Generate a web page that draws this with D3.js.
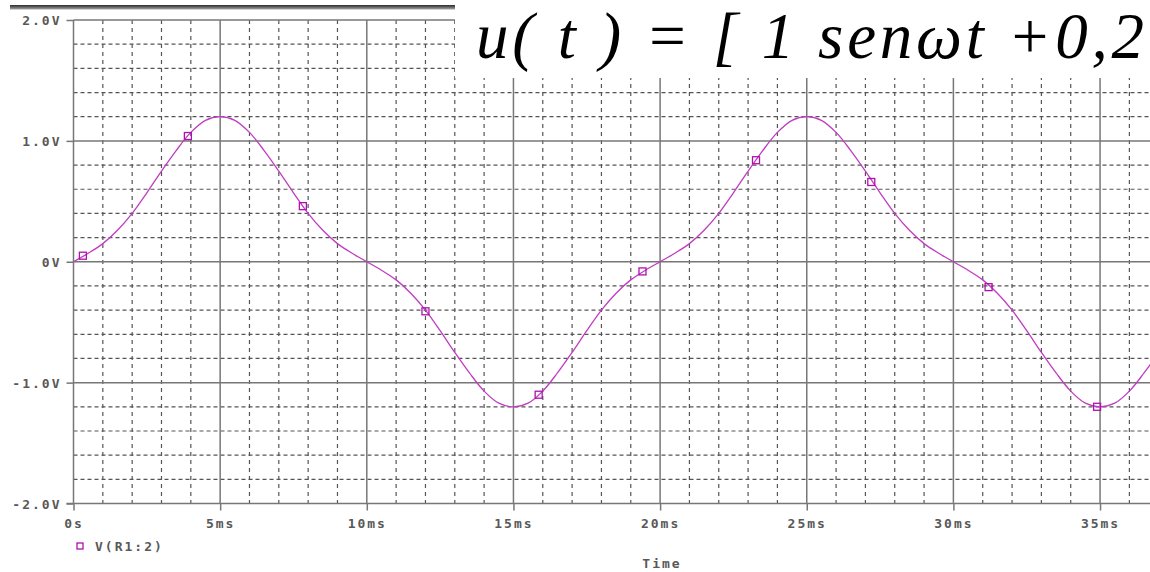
<!DOCTYPE html>
<html>
<head>
  <meta charset="utf-8">
  <title>V(R1:2)</title>
  <style>
    body { margin: 0; padding: 0; background: #fff; overflow: hidden; }
    svg { display: block; }
    .lbl { font-family: "DejaVu Sans Mono", monospace; font-weight: bold; font-size: 13px; fill: #585858; letter-spacing: 2px; }
    .axis path, .axis line { stroke: #777; stroke-width: 1.5; }
  </style>
</head>
<body>
  <svg id="chart" width="1150" height="572"></svg>

  <script src="https://d3js.org/d3.v7.min.js"></script>
  <script>
    // time in ms, voltage in V
    const times = [0, 0.5, 1, 1.5, 2, 2.5, 3, 3.5, 4, 4.5, 5, 5.5, 6, 6.5, 7, 7.5, 8, 8.5, 9, 9.5,
      10, 10.5, 11, 11.5, 12, 12.5, 13, 13.5, 14, 14.5, 15, 15.5, 16, 16.5, 17, 17.5, 18, 18.5, 19, 19.5,
      20, 20.5, 21, 21.5, 22, 22.5, 23, 23.5, 24, 24.5, 25, 25.5, 26, 26.5, 27, 27.5, 28, 28.5, 29, 29.5,
      30, 30.5, 31, 31.5, 32, 32.5, 33, 33.5, 34, 34.5, 35, 35.5, 36, 36.5, 37, 37.5, 38];
    const volts = [0, 0.07, 0.15, 0.26, 0.40, 0.57, 0.75, 0.92, 1.07, 1.17, 1.20, 1.17, 1.07, 0.92, 0.75, 0.57, 0.40, 0.26, 0.15, 0.07,
      0, -0.07, -0.15, -0.26, -0.40, -0.57, -0.75, -0.92, -1.07, -1.17, -1.20, -1.17, -1.07, -0.92, -0.75, -0.57, -0.40, -0.26, -0.15, -0.07,
      0, 0.07, 0.15, 0.26, 0.40, 0.57, 0.75, 0.92, 1.07, 1.17, 1.20, 1.17, 1.07, 0.92, 0.75, 0.57, 0.40, 0.26, 0.15, 0.07,
      0, -0.07, -0.15, -0.26, -0.40, -0.57, -0.75, -0.92, -1.07, -1.17, -1.20, -1.17, -1.07, -0.92, -0.75, -0.57, -0.40, -0.26, -0.15];

    // marker squares along the trace
    const markerTimes = [0.32, 3.9, 7.82, 12.0, 15.86, 19.4, 23.27, 27.2, 31.2, 34.9];
    const markerVolts = [0.05, 1.04, 0.46, -0.41, -1.10, -0.08, 0.84, 0.66, -0.21, -1.20];

    const xTicks = [0, 5, 10, 15, 20, 25, 30, 35];
    const xTickLabels = ['0s', '5ms', '10ms', '15ms', '20ms', '25ms', '30ms', '35ms'];
    const yTicks = [-2, -1, 0, 1, 2];
    const yTickLabels = ['-2.0V', '-1.0V', '0V', '1.0V', '2.0V'];

    const W = 1150, H = 572;
    const svg = d3.select('#chart');

    const x = d3.scaleLinear().domain([0, 40]).range([73.5, 73.5 + 40 * 29.33]);
    const y = d3.scaleLinear().domain([-2, 2]).range([503.5, 20]);

    const plotLeft = x(0), plotBottom = y(-2), plotTop = y(2);

    // dashed minor grid
    const minorX = d3.range(1, 40).filter(t => t % 5 !== 0);
    const minorY = d3.range(-9, 10).map(v => v / 5).filter(v => Math.abs(v % 1) > 0.01);

    const grid = svg.append('g');
    grid.selectAll('line.vx').data(minorX).enter().append('line')
      .attr('x1', d => x(d)).attr('x2', d => x(d))
      .attr('y1', plotTop).attr('y2', plotBottom)
      .attr('stroke', '#555').attr('stroke-width', 1.2)
      .attr('stroke-dasharray', '4,4');
    grid.selectAll('line.hy').data(minorY).enter().append('line')
      .attr('x1', plotLeft).attr('x2', W)
      .attr('y1', d => y(d)).attr('y2', d => y(d))
      .attr('stroke', '#555').attr('stroke-width', 1.2)
      .attr('stroke-dasharray', '4,3');

    // solid major grid
    grid.selectAll('line.mx').data(xTicks.filter(d => d > 0)).enter().append('line')
      .attr('x1', d => x(d)).attr('x2', d => x(d))
      .attr('y1', plotTop).attr('y2', plotBottom)
      .attr('stroke', '#777').attr('stroke-width', 1.5);
    grid.selectAll('line.my').data([-1, 0, 1, 2]).enter().append('line')
      .attr('x1', plotLeft).attr('x2', W)
      .attr('y1', d => y(d)).attr('y2', d => y(d))
      .attr('stroke', '#777').attr('stroke-width', 1.5);

    // axes
    const yAxis = svg.append('g').attr('class', 'axis')
      .attr('transform', `translate(${plotLeft},0)`)
      .call(d3.axisLeft(y).tickValues(yTicks).tickSize(7).tickPadding(5)
        .tickFormat((d, i) => yTickLabels[i]));
    yAxis.select('.domain').attr('d', `M0,${plotTop}V${plotBottom}`);
    yAxis.selectAll('text').attr('class', 'lbl').attr('dy', '0.36em');

    const xAxis = svg.append('g').attr('class', 'axis')
      .attr('transform', `translate(0,${plotBottom})`)
      .call(d3.axisBottom(x).tickValues(xTicks).tickSize(7).tickPadding(6)
        .tickFormat((d, i) => xTickLabels[i]));
    xAxis.select('.domain').attr('d', `M${plotLeft - 7},0H${W}`);
    xAxis.selectAll('text').attr('class', 'lbl').attr('dy', '0.9em');

    // trace
    const pts = times.map((t, i) => [t, volts[i]]);
    const line = d3.line().x(d => x(d[0])).y(d => y(d[1])).curve(d3.curveCatmullRom);
    svg.append('path').datum(pts)
      .attr('d', line)
      .attr('fill', 'none')
      .attr('stroke', '#c03cc0')
      .attr('stroke-width', 1.3);

    svg.append('g').selectAll('rect').data(markerTimes).enter().append('rect')
      .attr('x', d => x(d) - 3.5)
      .attr('y', (d, i) => y(markerVolts[i]) - 3.5)
      .attr('width', 7).attr('height', 7)
      .attr('fill', 'none').attr('stroke', '#b010b0').attr('stroke-width', 1.3);

    // legend and axis title
    svg.append('rect').attr('x', 77).attr('y', 543).attr('width', 6).attr('height', 6)
      .attr('fill', 'none').attr('stroke', '#b010b0').attr('stroke-width', 1.3);
    svg.append('text').attr('class', 'lbl').attr('x', 95).attr('y', 551).text('V(R1:2)');
    svg.append('text').attr('class', 'lbl').attr('x', 662).attr('y', 568)
      .attr('text-anchor', 'middle').text('Time');

    // window title bar at the top
    const grad = svg.append('defs').append('linearGradient').attr('id', 'bar')
      .attr('x1', 0).attr('y1', 0).attr('x2', 0).attr('y2', 1);
    grad.append('stop').attr('offset', 0).attr('stop-color', '#2a2a2a');
    grad.append('stop').attr('offset', 1).attr('stop-color', '#a8a8a8');
    svg.append('rect').attr('x', 10).attr('y', 5).attr('width', 458).attr('height', 4.5)
      .attr('fill', 'url(#bar)');

    // formula pasted over the plot
    svg.append('rect').attr('x', 455).attr('y', 0).attr('width', W - 455).attr('height', 78)
      .attr('fill', '#fff');
    svg.append('text')
      .attr('x', 476).attr('y', 58)
      .attr('font-family', '"Liberation Serif", "Times New Roman", serif')
      .attr('font-style', 'italic')
      .attr('font-size', 65)
      .attr('fill', '#000')
      .attr('xml:space', 'preserve')
      .attr('textLength', 668)
      .attr('lengthAdjust', 'spacing')
      .text('u( t ) = [ 1 sen\u03c9t +0,2');
  </script>
</body>
</html>
